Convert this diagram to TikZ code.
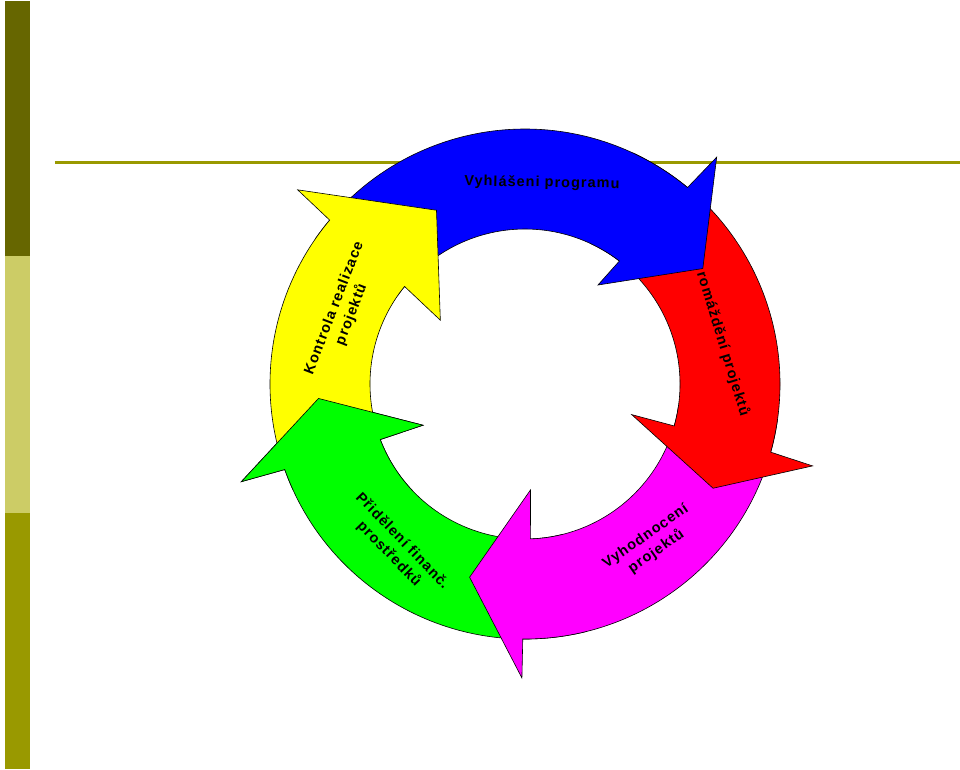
\documentclass[tikz,border=0pt]{standalone}
\usepackage{fontspec}
\setmainfont{Liberation Sans}[BoldFont={Liberation Sans Bold}]
\usepackage{tikz}
\definecolor{cBarDark}{HTML}{666600}
\definecolor{cBarLight}{HTML}{CCCC66}
\definecolor{cBarOlive}{HTML}{999900}
\definecolor{cRule}{HTML}{999900}
\definecolor{cBlue}{HTML}{0000FF}
\definecolor{cRed}{HTML}{FF0000}
\definecolor{cMag}{HTML}{FF00FF}
\definecolor{cGreen}{HTML}{00FF00}
\definecolor{cYellow}{HTML}{FFFF00}
\tikzset{
  ring/.style={draw=black, line width=0.6pt, fill=#1},
  lbl/.style={font=\fontsize{14.5}{18.5}\selectfont\bfseries\addfontfeature{LetterSpace=7},
              align=center, inner sep=0pt, text=black},
}
% green arrow is drawn twice (its head lies over the yellow tail)
\newcommand{\greenarc}{(284:255) arc[start angle=284, end angle=199.6, radius=255]
  -- (199:300) -- (184:207) -- (202:110) -- (201:155)
  arc[start angle=201, end angle=284, radius=155] -- cycle}

\begin{document}
\begin{tikzpicture}[x=1pt, y=1pt]
  \useasboundingbox (-525,-385) rectangle (435,384);

  % side bar and rule
  \fill[cBarDark] (-520,383) rectangle (-495,128);
  \fill[cBarLight] (-520,128) rectangle (-495,-129);
  \fill[cBarOlive] (-520,-129) rectangle (-495,-385);
  \draw[cRule, line width=2.6pt] (-470,221.5) -- (435,221.5);

  % ring of arrows, each head over the next tail
  \draw[ring=cGreen] \greenarc;
  \draw[ring=cMag] (-8:255) arc[start angle=-8, end angle=-90.5, radius=255]
    -- (-90.6:294) -- (-106:201) -- (-87:106) -- (-88:155)
    arc[start angle=-88, end angle=-8, radius=155] -- cycle;
  \draw[ring=cRed] (65:255) arc[start angle=65, end angle=-15.5, radius=255]
    -- (-15.9:299) -- (-29:215) -- (-16:111) -- (-15.7:155)
    arc[start angle=-15.7, end angle=65, radius=155] -- cycle;
  \draw[ring=cBlue] (145:255) arc[start angle=145, end angle=50.4, radius=255]
    -- (49.8:297) -- (33:212) -- (53.6:123) -- (52.5:155)
    arc[start angle=52.5, end angle=145, radius=155] -- cycle;
  \draw[ring=cYellow] (196:255) arc[start angle=196, end angle=140, radius=255]
    -- (139.5:299) -- (117:195) -- (143:106) -- (141:155)
    arc[start angle=141, end angle=196, radius=155] -- cycle;
  \begin{scope}
    \clip (-310,-105) rectangle (-85,5);
    \draw[ring=cGreen] \greenarc;
  \end{scope}

  % labels
  \node[lbl, rotate=-1] (tVyhl) at (17,201) {Vyhlášeni programu};
  \node[lbl, rotate=-73] (tShrom) at (198,40) {romáždění projektů};
  \node[lbl, rotate=69] (tKontr) at (-182,72.5) {Kontrola realizace\\projektů};
  \node[lbl, rotate=-46] (tPrid) at (-129.5,-163.5) {Přidělení finanč.\\prostředků};
  \node[lbl, rotate=35] (tVyhod) at (126,-160) {Vyhodnocení\\projektů};
\end{tikzpicture}
\end{document}
